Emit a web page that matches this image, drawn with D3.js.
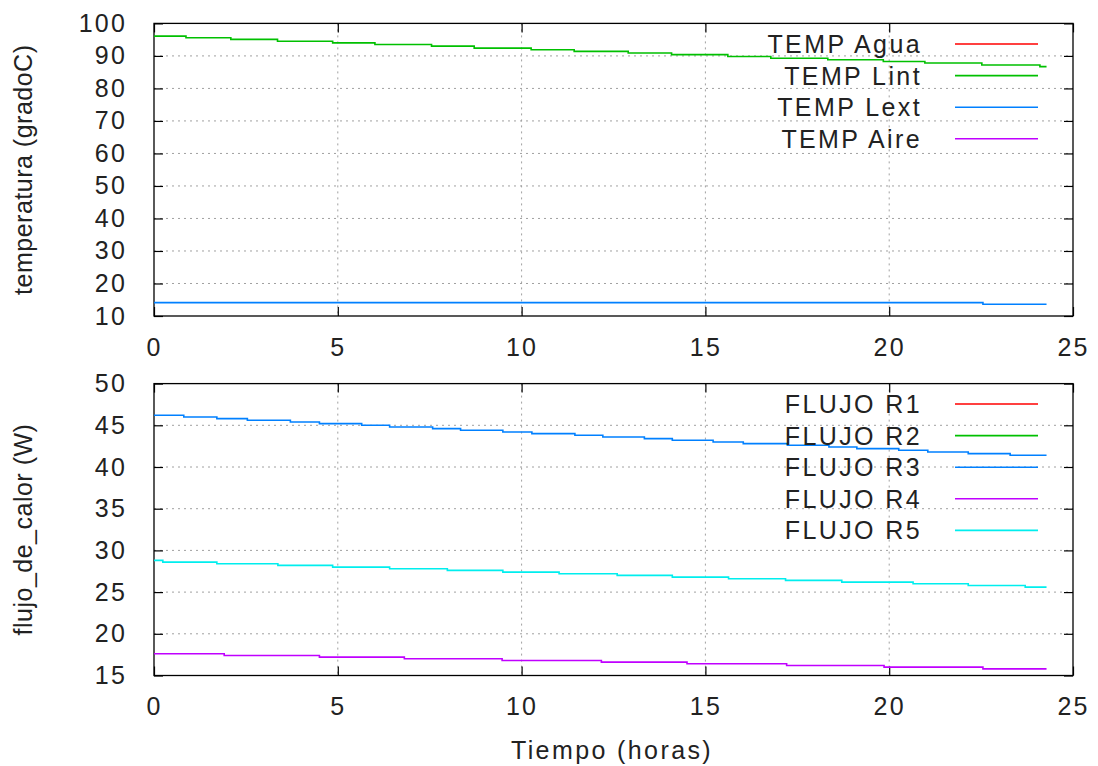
<!DOCTYPE html>
<html>
<head>
<meta charset="utf-8">
<script src="https://cdn.jsdelivr.net/npm/d3@7"></script>
<style>
  body { margin: 0; background: #fff; }
  text { font-family: "Liberation Sans", Arial, sans-serif; fill: #222; }
</style>
</head>
<body>
<div id="chart"></div>
<script>
// step data (time in hours)
const lintTimes = [0, 0.87, 2.09, 3.36, 4.86, 6.01, 7.55, 8.71, 10.26, 11.43, 12.90, 14.08, 15.61, 16.78, 18.33, 19.84, 20.97, 22.52, 24.10, 24.28];
const lintValues = [96.1, 95.6, 95.1, 94.5, 94.0, 93.5, 93.0, 92.4, 91.9, 91.4, 90.9, 90.4, 89.8, 89.3, 88.8, 88.3, 87.8, 87.2, 86.7, 86.7];
const lextTimes = [0, 22.55, 24.28];
const lextValues = [14.1, 13.6, 13.6];
const aguaTimes = [];
const aguaValues = [];
const aireTimes = [];
const aireValues = [];

const r3Times = [0, 0.81, 1.71, 2.54, 3.71, 4.50, 5.65, 6.41, 7.58, 8.34, 9.49, 10.28, 11.45, 12.21, 13.34, 14.10, 15.21, 16.03, 17.23, 18.36, 19.12, 20.26, 21.05, 22.15, 23.29, 24.28];
const r3Values = [46.2, 46.0, 45.8, 45.6, 45.4, 45.2, 45.0, 44.8, 44.6, 44.4, 44.2, 44.0, 43.8, 43.6, 43.4, 43.2, 43.0, 42.8, 42.6, 42.4, 42.2, 42.0, 41.8, 41.6, 41.4, 41.4];
const r4Times = [0, 1.91, 4.50, 6.81, 9.47, 12.17, 14.50, 17.21, 19.86, 22.55, 24.28];
const r4Values = [17.6, 17.4, 17.2, 17.0, 16.8, 16.6, 16.4, 16.2, 16.0, 15.8, 15.8];
const r5Times = [0, 0.24, 1.71, 3.37, 4.86, 6.41, 7.98, 9.49, 11.02, 12.60, 14.10, 15.63, 17.18, 18.71, 20.65, 22.15, 23.70, 24.28];
const r5Values = [28.8, 28.6, 28.4, 28.2, 28.0, 27.8, 27.6, 27.4, 27.2, 27.0, 26.8, 26.6, 26.4, 26.2, 26.0, 25.8, 25.6, 25.6];
const r1Times = [];
const r1Values = [];
const r2Times = [];
const r2Values = [];

const xTicks = [0, 5, 10, 15, 20, 25];
const tempTicks = [10, 20, 30, 40, 50, 60, 70, 80, 90, 100];
const flujoTicks = [15, 20, 25, 30, 35, 40, 45, 50];

const zip = (t, v) => t.map((d, i) => ({ t: d, v: v[i] }));

const tempSeries = [
  { name: "TEMP Agua", color: "#ff0000", data: zip(aguaTimes, aguaValues) },
  { name: "TEMP Lint", color: "#00c000", data: zip(lintTimes, lintValues) },
  { name: "TEMP Lext", color: "#0080ff", data: zip(lextTimes, lextValues) },
  { name: "TEMP Aire", color: "#c000ff", data: zip(aireTimes, aireValues) }
];
const flujoSeries = [
  { name: "FLUJO R1", color: "#ff0000", data: zip(r1Times, r1Values) },
  { name: "FLUJO R2", color: "#00c000", data: zip(r2Times, r2Values) },
  { name: "FLUJO R3", color: "#0080ff", data: zip(r3Times, r3Values) },
  { name: "FLUJO R4", color: "#c000ff", data: zip(r4Times, r4Values) },
  { name: "FLUJO R5", color: "#00eeee", data: zip(r5Times, r5Values) }
];

const width = 1098, height = 766;
const svg = d3.select("#chart").append("svg")
  .attr("width", width)
  .attr("height", height);
svg.append("rect").attr("width", width).attr("height", height).attr("fill", "#fff");

const x = d3.scaleLinear().domain([0, 25]).range([154, 1073]);

function panel(cfg) {
  const y = d3.scaleLinear().domain(cfg.domain).range([cfg.bottom, cfg.top]);
  const g = svg.append("g");

  // grid
  g.selectAll(".gy").data(cfg.ticks.slice(1, -1)).join("line")
    .attr("x1", x(0)).attr("x2", x(25))
    .attr("y1", d => y(d)).attr("y2", d => y(d))
    .attr("stroke", "#a0a0a0").attr("stroke-dasharray", "2,4");
  g.selectAll(".gx").data(xTicks.slice(1, -1)).join("line")
    .attr("x1", d => x(d)).attr("x2", d => x(d))
    .attr("y1", cfg.top).attr("y2", cfg.bottom)
    .attr("stroke", "#a0a0a0").attr("stroke-dasharray", "2,4");

  // axes (ticks inward)
  const left = g.append("g").attr("transform", `translate(${x(0)},0)`)
    .call(d3.axisLeft(y).tickValues(cfg.ticks).tickSize(-9).tickPadding(27));
  const right = g.append("g").attr("transform", `translate(${x(25)},0)`)
    .call(d3.axisRight(y).tickValues(cfg.ticks).tickSize(-9).tickFormat(""));
  const bottom = g.append("g").attr("transform", `translate(0,${cfg.bottom})`)
    .call(d3.axisBottom(x).tickValues(xTicks).tickSize(-9).tickPadding(22));
  const top = g.append("g").attr("transform", `translate(0,${cfg.top})`)
    .call(d3.axisTop(x).tickValues(xTicks).tickSize(-9).tickFormat(""));
  [left, right, bottom, top].forEach(a => {
    a.select(".domain").remove();
    a.selectAll(".tick line").attr("stroke", "#000").attr("stroke-width", 1.2);
    a.selectAll(".tick text").attr("font-size", 25).attr("letter-spacing", 2.2)
      .attr("font-family", "Liberation Sans").attr("fill", "#222");
  });

  // border
  g.append("rect")
    .attr("x", x(0)).attr("y", cfg.top)
    .attr("width", x(25) - x(0)).attr("height", cfg.bottom - cfg.top)
    .attr("fill", "none").attr("stroke", "#000").attr("stroke-width", 1.3);

  // y label
  g.append("text")
    .attr("transform", `translate(${cfg.labelX},${(cfg.top + cfg.bottom) / 2}) rotate(-90)`)
    .attr("text-anchor", "middle").attr("dominant-baseline", "central")
    .attr("font-size", 25).attr("letter-spacing", 0.5)
    .text(cfg.label);

  // lines
  const line = d3.line().curve(d3.curveStepAfter).x(d => x(d.t)).y(d => y(d.v));
  g.selectAll(".series").data(cfg.series).join("path")
    .attr("fill", "none")
    .attr("stroke", d => d.color)
    .attr("stroke-width", 1.6)
    .attr("d", d => d.data.length ? line(d.data) : null);

  // legend
  const lg = g.selectAll(".leg").data(cfg.series).join("g")
    .attr("transform", (d, i) => `translate(0,${cfg.legendTop + i * cfg.legendStep})`);
  lg.append("text")
    .attr("x", 922).attr("text-anchor", "end").attr("dominant-baseline", "central")
    .attr("font-size", 25).attr("letter-spacing", 2.4)
    .text(d => d.name);
  lg.append("line")
    .attr("x1", 955).attr("x2", 1038)
    .attr("stroke", d => d.color).attr("stroke-width", 1.6);
}

panel({
  domain: [10, 100], ticks: tempTicks, top: 23.4, bottom: 316,
  label: "temperatura (gradoC)", labelX: 23,
  series: tempSeries, legendTop: 44, legendStep: 31.6
});
panel({
  domain: [15, 50], ticks: flujoTicks, top: 383.6, bottom: 675.5,
  label: "flujo_de_calor (W)", labelX: 23,
  series: flujoSeries, legendTop: 404, legendStep: 31.6
});

svg.append("text")
  .attr("x", 612).attr("y", 750)
  .attr("text-anchor", "middle").attr("dominant-baseline", "central")
  .attr("font-size", 25).attr("letter-spacing", 2.4)
  .text("Tiempo (horas)");
</script>
</body>
</html>
